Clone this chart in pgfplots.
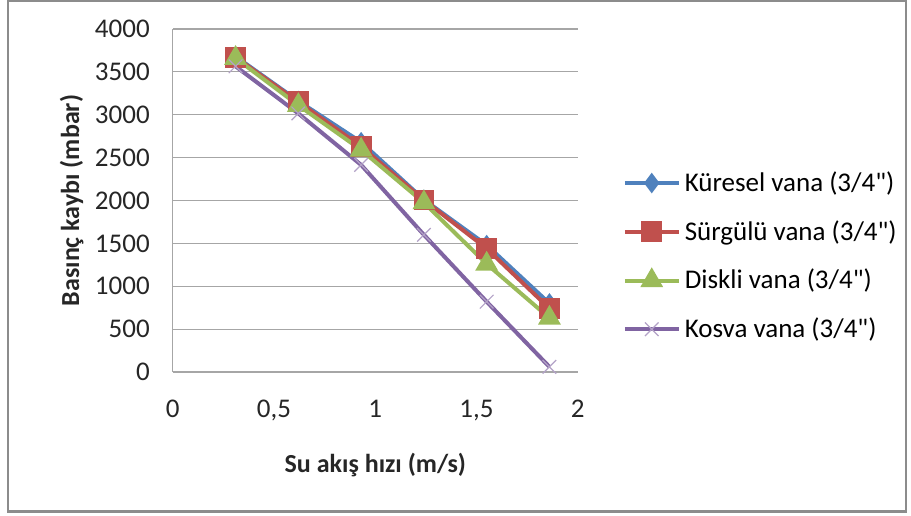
\documentclass[border=0pt]{standalone}
\usepackage{pgfplots}
\pgfplotsset{compat=1.18}
\usepackage{fontspec}
\setmainfont{Carlito}
\definecolor{cBlue}{HTML}{4F81BD}
\definecolor{cRed}{HTML}{C0504D}
\definecolor{cGreen}{HTML}{9BBB59}
\definecolor{cPurple}{HTML}{8064A2}
\definecolor{cPurpleL}{HTML}{B3A2C7}
\definecolor{cGrid}{HTML}{A6A6A6}
\begin{document}
\begin{tikzpicture}
\path[use as bounding box] (0,0) rectangle (455.5pt,257.5pt);
\draw[color=black!45, line width=1.2pt] (4pt,1.7pt) rectangle (453pt,257pt);
\begin{axis}[
  at={(86.4pt,71.5pt)}, anchor=south west,
  scale only axis, width=202.5pt, height=171.5pt,
  xmin=0, xmax=2, ymin=0, ymax=4000,
  xtick={0,0.5,1,1.5,2},
  ytick={0,500,...,4000},
  xticklabels={0,{0,5},1,{1,5},2},
  scaled y ticks=false,
  /pgf/number format/assume math mode=true,
  yticklabel style={/pgf/number format/1000 sep={}, xshift=-8pt},
  xticklabel style={yshift=-10.5pt},
  tick label style={font=\fontsize{13.5}{15}\selectfont, text=black!85},
  major tick length=0pt,
  ymajorgrids, grid style={cGrid, line width=0.6pt},
  axis line style={draw=none},
  axis x line*=bottom, axis y line*=left,
  xlabel={Su akış hızı (m/s)},
  ylabel={Basınç kaybı (mbar)},
  label style={font=\bfseries\fontsize{13}{15}\selectfont, text=black!85},
  x label style={at={(axis description cs:0.5,-0.27)}, anchor=center},
  y label style={at={(axis description cs:-0.25,0.5)}, anchor=center, rotate=0},
  clip=false,
  legend style={at={(1.11,0.597)}, anchor=north west, draw=none, fill=none,
    font=\fontsize{13.5}{15}\selectfont, row sep=9pt, inner sep=0pt,
    /tikz/every even column/.append style={column sep=2pt}},
  legend cell align=left,
  legend image code/.code={
    \draw[#1, mark=none] (0pt,0pt) -- (27pt,0pt);
    \draw[#1, only marks] plot coordinates {(13.5pt,0pt)};
  },
]
\draw[cGrid, line width=0.6pt] (axis cs:0,0) -- (axis cs:0,4000);
\addplot[cBlue, line width=2pt, mark=diamond*, mark size=3.5pt] coordinates {
(0.31,3680) (0.62,3160) (0.93,2680) (1.24,2010) (1.55,1480) (1.86,800)};
\addlegendentry{Küresel vana (3/4\textquotedbl)}
\addplot[cRed, line width=2pt, mark=square*, mark size=4.2pt] coordinates {
(0.31,3670) (0.62,3150) (0.93,2630) (1.24,2005) (1.55,1440) (1.86,740)};
\addlegendentry{Sürgülü vana (3/4\textquotedbl)}
\addplot[cGreen, line width=2pt, mark=triangle*, mark size=4.6pt] coordinates {
(0.31,3660) (0.62,3110) (0.93,2590) (1.24,1975) (1.55,1260) (1.86,630)};
\addlegendentry{Diskli vana (3/4\textquotedbl)}
\addplot[cPurple, line width=2pt, mark=x, mark size=4.8pt, mark options={cPurpleL, line width=0.6pt}] coordinates {
(0.31,3565) (0.62,3015) (0.93,2415) (1.24,1600) (1.55,820) (1.86,60)};
\addlegendentry{Kosva vana (3/4\textquotedbl)}
\end{axis}
\end{tikzpicture}
\end{document}
